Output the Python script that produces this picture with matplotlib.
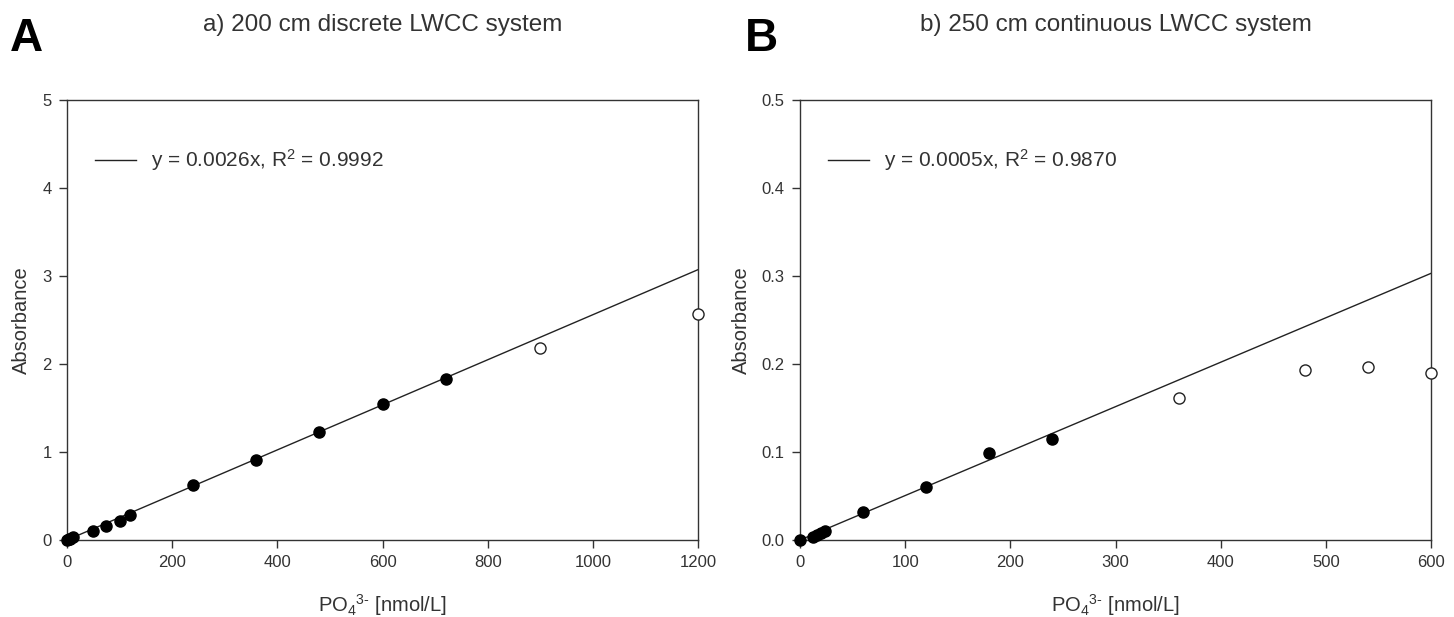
import numpy as np
import matplotlib.pyplot as plt

plt.rcParams['font.family'] = ['Liberation Sans', 'DejaVu Sans']
plt.rcParams['mathtext.fontset'] = 'custom'
plt.rcParams['mathtext.rm'] = 'Liberation Sans'
plt.rcParams['mathtext.it'] = 'Liberation Sans'

# a) 200 cm discrete LWCC: calibration points (nmol/L, absorbance)
conc_a = [0, 3, 6, 12, 50, 75, 100, 120, 240, 360, 480, 600, 720]
abs_a = [0.0, 0.008, 0.016, 0.03, 0.106, 0.16, 0.22, 0.284, 0.62, 0.91, 1.23, 1.55, 1.83]
conc_a_out = [900, 1200]
abs_a_out = [2.18, 2.57]
slope_a = 0.00256
r2_a = 0.9992

# b) 250 cm continuous LWCC
conc_b = [0, 12, 16, 20, 24, 60, 120, 180, 240]
abs_b = [0.0, 0.003, 0.006, 0.008, 0.010, 0.032, 0.060, 0.099, 0.115]
conc_b_out = [360, 480, 540, 600]
abs_b_out = [0.161, 0.193, 0.197, 0.190]
slope_b = 0.000505
r2_b = 0.9870

dark = '#333333'

fig = plt.figure(figsize=(14.54, 6.17), dpi=100)
ax_a = fig.add_axes([0.0461, 0.1248, 0.4340, 0.7132])
ax_b = fig.add_axes([0.5502, 0.1248, 0.4340, 0.7132])


def panel(ax, x, y, x_out, y_out, slope, r2, xmax, ymax, xticks, yticks, yfmt, title):
    xx = np.array([0, xmax])
    ax.plot(xx, slope * xx, color='#222222', lw=1.0,
            label=f'y = {slope:.4f}x, R$^2$ = {r2:.4f}')
    ax.plot(x, y, 'o', color='black', ms=8, clip_on=False, zorder=3)
    ax.plot(x_out, y_out, 'o', mfc='white', mec='#222222', mew=1.0, ms=8,
            clip_on=False, zorder=3)
    ax.set_xlim(0, xmax)
    ax.set_ylim(0, ymax)
    ax.set_xticks(xticks)
    ax.set_yticks(yticks)
    ax.set_yticklabels([yfmt.format(v) for v in yticks])
    for s in ax.spines.values():
        s.set_color(dark)
        s.set_linewidth(1.0)
    ax.tick_params(direction='out', length=6, width=1, color=dark,
                   labelcolor=dark, labelsize=12, pad=5)
    ax.set_xlabel('PO$_4$$^{3\u2010}$ [nmol/L]', fontsize=14.5, color=dark, labelpad=16)
    ax.set_ylabel('Absorbance', fontsize=14.5, color=dark, labelpad=8)
    ax.set_title(title, fontsize=17.5, color=dark, pad=50)
    leg = ax.legend(loc='upper left', frameon=False, fontsize=15,
                    handlelength=2.0, handletextpad=0.7,
                    bbox_to_anchor=(0.014, 0.935))
    for t in leg.get_texts():
        t.set_color(dark)


panel(ax_a, conc_a, abs_a, conc_a_out, abs_a_out, slope_a, r2_a, 1200, 5,
      range(0, 1201, 200), range(0, 6), '{:d}', 'a) 200 cm discrete LWCC system')
panel(ax_b, conc_b, abs_b, conc_b_out, abs_b_out, slope_b, r2_b, 600, 0.5,
      range(0, 601, 100), [0.0, 0.1, 0.2, 0.3, 0.4, 0.5], '{:.1f}',
      'b) 250 cm continuous LWCC system')

fig.text(0.007, 0.918, 'A', fontsize=33, fontweight='bold', color='black')
fig.text(0.512, 0.918, 'B', fontsize=33, fontweight='bold', color='black')

fig.savefig('out.png', dpi=100)
